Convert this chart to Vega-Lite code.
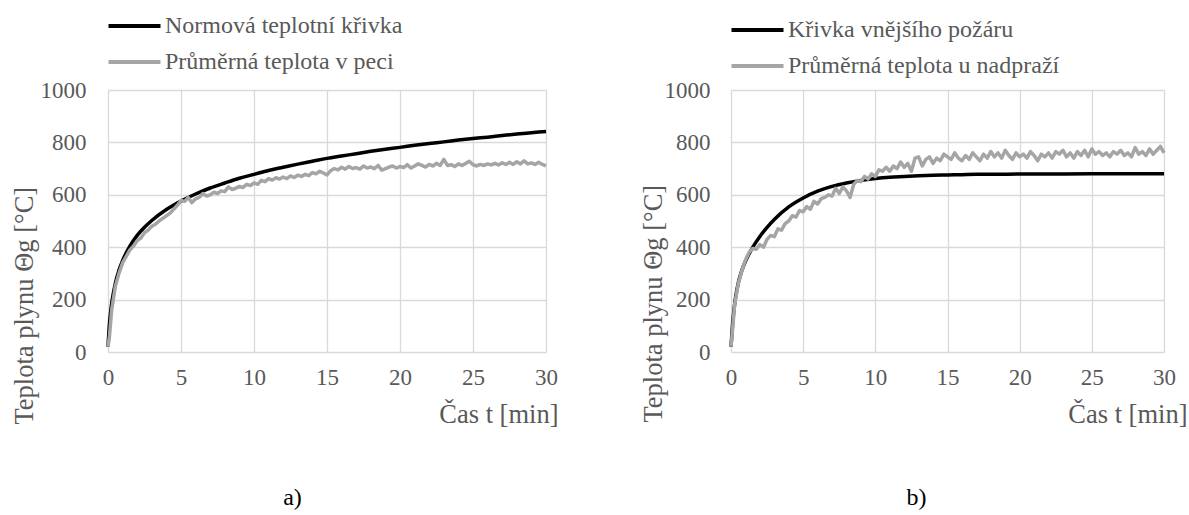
{
  "$schema": "https://vega.github.io/schema/vega-lite/v6.json",
  "background": "white",
  "padding": {"left": 11, "top": 14, "right": 0, "bottom": 0},
  "resolve": {"scale": {"color": "independent"}, "legend": {"color": "independent"}},
  "config": {
    "font": "Times New Roman",
    "view": {"stroke": null},
    "axis": {
      "labelFont": "Times New Roman", "labelFontSize": 23, "labelColor": "#595959",
      "titleFont": "Times New Roman", "titleFontSize": 26.5, "titleColor": "#595959", "titleFontWeight": "normal",
      "gridColor": "#d9d9d9", "gridWidth": 1.3, "domain": false, "ticks": false, "labelFlush": false, "format": "d"
    },
    "legend": {
      "orient": "none", "title": null, "padding": 0,
      "symbolType": "M-1,0H7", "symbolSize": 169, "symbolStrokeWidth": 4, "symbolFillColor": "transparent",
      "labelOffset": 38, "rowPadding": 12, "labelFontSize": 24, "labelColor": "#595959",
      "labelFont": "Times New Roman", "labelLimit": 500
    },
    "title": {"font": "Times New Roman", "fontSize": 24, "fontWeight": "normal", "color": "#000000"},
    "concat": {"spacing": 82}
  },
  "datasets": {
    "isoA": [
      {"t":0,"T":20},{"t":0.1,"T":108},{"t":0.2,"T":163},{"t":0.3,"T":203},{"t":0.5,"T":261},{"t":0.75,"T":312},
      {"t":1,"T":349},{"t":1.5,"T":404},{"t":2,"T":445},{"t":2.5,"T":476},{"t":3,"T":502},{"t":4,"T":544},
      {"t":5,"T":576},{"t":6,"T":603},{"t":7,"T":626},{"t":8,"T":645},{"t":9,"T":663},{"t":10,"T":678},
      {"t":11,"T":693},{"t":12,"T":705},{"t":13,"T":717},{"t":14,"T":728},{"t":15,"T":739},{"t":16,"T":748},
      {"t":17,"T":757},{"t":18,"T":766},{"t":19,"T":774},{"t":20,"T":781},{"t":21,"T":789},{"t":22,"T":796},
      {"t":23,"T":802},{"t":24,"T":809},{"t":25,"T":815},{"t":26,"T":820},{"t":27,"T":826},{"t":28,"T":832},
      {"t":29,"T":837},{"t":30,"T":842}
    ],
    "measA": [
      {"t":0,"T":20},{"t":0.1,"T":60},{"t":0.25,"T":160},{"t":0.5,"T":250},{"t":0.75,"T":300},{"t":1,"T":340},
      {"t":1.25,"T":365},{"t":1.5,"T":390},{"t":1.75,"T":405},{"t":2,"T":425},{"t":2.25,"T":435},{"t":2.5,"T":455},
      {"t":2.75,"T":465},{"t":3,"T":480},{"t":3.25,"T":488},{"t":3.5,"T":500},{"t":3.75,"T":510},{"t":4,"T":520},
      {"t":4.25,"T":530},{"t":4.5,"T":545},{"t":4.75,"T":560},{"t":5,"T":578},{"t":5.25,"T":575},{"t":5.5,"T":590},
      {"t":5.75,"T":570},{"t":6,"T":585},{"t":6.25,"T":590},{"t":6.5,"T":605},{"t":6.75,"T":595},{"t":7,"T":600},
      {"t":7.25,"T":610},{"t":7.5,"T":605},{"t":7.75,"T":615},{"t":8,"T":612},{"t":8.25,"T":630},{"t":8.5,"T":620},
      {"t":8.75,"T":625},{"t":9,"T":632},{"t":9.25,"T":628},{"t":9.5,"T":640},{"t":9.75,"T":635},{"t":10,"T":645},
      {"t":10.25,"T":640},{"t":10.5,"T":655},{"t":10.75,"T":650},{"t":11,"T":662},{"t":11.25,"T":656},{"t":11.5,"T":665},
      {"t":11.75,"T":660},{"t":12,"T":668},{"t":12.25,"T":662},{"t":12.5,"T":672},{"t":12.75,"T":666},{"t":13,"T":675},
      {"t":13.25,"T":670},{"t":13.5,"T":678},{"t":13.75,"T":673},{"t":14,"T":685},{"t":14.25,"T":680},{"t":14.5,"T":690},
      {"t":14.75,"T":683},{"t":15,"T":676},{"t":15.25,"T":692},{"t":15.5,"T":700},{"t":15.75,"T":695},{"t":16,"T":705},
      {"t":16.25,"T":698},{"t":16.5,"T":708},{"t":16.75,"T":700},{"t":17,"T":704},{"t":17.25,"T":698},{"t":17.5,"T":710},
      {"t":17.75,"T":702},{"t":18,"T":706},{"t":18.25,"T":700},{"t":18.5,"T":712},{"t":18.75,"T":694},{"t":19,"T":700},
      {"t":19.25,"T":706},{"t":19.5,"T":710},{"t":19.75,"T":702},{"t":20,"T":708},{"t":20.25,"T":704},{"t":20.5,"T":715},
      {"t":20.75,"T":702},{"t":21,"T":710},{"t":21.25,"T":718},{"t":21.5,"T":712},{"t":21.75,"T":706},{"t":22,"T":716},
      {"t":22.25,"T":710},{"t":22.5,"T":720},{"t":22.75,"T":712},{"t":23,"T":735},{"t":23.25,"T":712},{"t":23.5,"T":715},
      {"t":23.75,"T":708},{"t":24,"T":718},{"t":24.25,"T":712},{"t":24.5,"T":720},{"t":24.75,"T":728},{"t":25,"T":715},
      {"t":25.25,"T":710},{"t":25.5,"T":716},{"t":25.75,"T":712},{"t":26,"T":718},{"t":26.25,"T":714},{"t":26.5,"T":720},
      {"t":26.75,"T":714},{"t":27,"T":722},{"t":27.25,"T":716},{"t":27.5,"T":724},{"t":27.75,"T":716},{"t":28,"T":726},
      {"t":28.25,"T":718},{"t":28.5,"T":730},{"t":28.75,"T":718},{"t":29,"T":722},{"t":29.25,"T":716},{"t":29.5,"T":724},
      {"t":29.75,"T":716},{"t":30,"T":710}
    ],
    "extB": [
      {"t":0,"T":20},{"t":0.1,"T":100},{"t":0.2,"T":158},{"t":0.3,"T":202},{"t":0.5,"T":263},{"t":0.75,"T":311},
      {"t":1,"T":346},{"t":1.5,"T":399},{"t":2,"T":441},{"t":2.5,"T":476},{"t":3,"T":506},{"t":4,"T":554},
      {"t":5,"T":588},{"t":6,"T":614},{"t":7,"T":632},{"t":8,"T":645},{"t":9,"T":655},{"t":10,"T":662},
      {"t":11,"T":667},{"t":12,"T":670},{"t":13,"T":673},{"t":14,"T":675},{"t":15,"T":676},{"t":16,"T":677},
      {"t":17,"T":678},{"t":18,"T":678},{"t":20,"T":679},{"t":22,"T":679},{"t":25,"T":680},{"t":30,"T":680}
    ],
    "measB": [
      {"t":0,"T":20},{"t":0.1,"T":80},{"t":0.25,"T":180},{"t":0.5,"T":260},{"t":0.75,"T":310},{"t":1,"T":350},
      {"t":1.25,"T":380},{"t":1.5,"T":395},{"t":1.75,"T":392},{"t":2,"T":410},{"t":2.25,"T":400},{"t":2.5,"T":430},
      {"t":2.75,"T":445},{"t":3,"T":440},{"t":3.25,"T":470},{"t":3.5,"T":465},{"t":3.75,"T":490},{"t":4,"T":500},
      {"t":4.25,"T":520},{"t":4.5,"T":515},{"t":4.75,"T":540},{"t":5,"T":535},{"t":5.25,"T":555},{"t":5.5,"T":545},
      {"t":5.75,"T":575},{"t":6,"T":565},{"t":6.25,"T":585},{"t":6.5,"T":590},{"t":6.75,"T":600},{"t":7,"T":595},
      {"t":7.25,"T":625},{"t":7.5,"T":605},{"t":7.75,"T":630},{"t":8,"T":615},{"t":8.25,"T":590},{"t":8.5,"T":640},
      {"t":8.75,"T":655},{"t":9,"T":650},{"t":9.25,"T":670},{"t":9.5,"T":660},{"t":9.75,"T":680},{"t":10,"T":670},
      {"t":10.25,"T":695},{"t":10.5,"T":690},{"t":10.75,"T":705},{"t":11,"T":690},{"t":11.25,"T":710},{"t":11.5,"T":700},
      {"t":11.75,"T":725},{"t":12,"T":705},{"t":12.25,"T":720},{"t":12.5,"T":690},{"t":12.75,"T":740},{"t":13,"T":745},
      {"t":13.25,"T":710},{"t":13.5,"T":735},{"t":13.75,"T":745},{"t":14,"T":720},{"t":14.25,"T":740},{"t":14.5,"T":730},
      {"t":14.75,"T":755},{"t":15,"T":745},{"t":15.25,"T":735},{"t":15.5,"T":760},{"t":15.75,"T":740},{"t":16,"T":730},
      {"t":16.25,"T":750},{"t":16.5,"T":735},{"t":16.75,"T":760},{"t":17,"T":745},{"t":17.25,"T":730},{"t":17.5,"T":755},
      {"t":17.75,"T":740},{"t":18,"T":765},{"t":18.25,"T":745},{"t":18.5,"T":760},{"t":18.75,"T":740},{"t":19,"T":770},
      {"t":19.25,"T":750},{"t":19.5,"T":735},{"t":19.75,"T":760},{"t":20,"T":745},{"t":20.25,"T":755},{"t":20.5,"T":740},
      {"t":20.75,"T":765},{"t":21,"T":750},{"t":21.25,"T":730},{"t":21.5,"T":755},{"t":21.75,"T":745},{"t":22,"T":760},
      {"t":22.25,"T":740},{"t":22.5,"T":765},{"t":22.75,"T":755},{"t":23,"T":770},{"t":23.25,"T":745},{"t":23.5,"T":760},
      {"t":23.75,"T":740},{"t":24,"T":765},{"t":24.25,"T":750},{"t":24.5,"T":770},{"t":24.75,"T":745},{"t":25,"T":775},
      {"t":25.25,"T":755},{"t":25.5,"T":765},{"t":25.75,"T":750},{"t":26,"T":760},{"t":26.25,"T":745},{"t":26.5,"T":765},
      {"t":26.75,"T":755},{"t":27,"T":770},{"t":27.25,"T":750},{"t":27.5,"T":760},{"t":27.75,"T":745},{"t":28,"T":780},
      {"t":28.25,"T":755},{"t":28.5,"T":765},{"t":28.75,"T":750},{"t":29,"T":775},{"t":29.25,"T":755},{"t":29.5,"T":770},
      {"t":29.75,"T":785},{"t":30,"T":760}
    ]
  },
  "hconcat": [
    {
      "width": 438, "height": 262,
      "title": {"text": "a)", "orient": "bottom", "anchor": "middle", "frame": "bounds", "offset": 58, "dx": 8},
      "encoding": {
        "x": {"field": "t", "type": "quantitative",
              "scale": {"domain": [0, 30], "nice": false},
              "axis": {"values": [0,5,10,15,20,25,30], "title": "Čas t [min]", "labelPadding": 14,
                       "titleAnchor": "end", "titleAlign": "right", "titleX": 450, "titleY": 70, "titleBaseline": "alphabetic"}},
        "y": {"field": "T", "type": "quantitative",
              "scale": {"domain": [0, 1000], "nice": false},
              "axis": {"values": [0,200,400,600,800,1000], "title": "Teplota plynu Θg [°C]", "labelPadding": 22,
                       "titleAnchor": "start", "titleAlign": "left", "titleX": -84, "titleY": 334, "titleBaseline": "middle"}},
        "color": {"type": "nominal",
                  "scale": {"domain": ["Normová teplotní křivka", "Průměrná teplota v peci"], "range": ["#000000", "#a5a5a5"]},
                  "legend": {"legendX": -5, "legendY": -76}}
      },
      "layer": [
        {"data": {"name": "isoA"}, "mark": {"type": "line", "strokeWidth": 3.5, "interpolate": "monotone"},
         "encoding": {"color": {"datum": "Normová teplotní křivka", "type": "nominal"}}},
        {"data": {"name": "measA"}, "mark": {"type": "line", "strokeWidth": 3.5, "strokeJoin": "round"},
         "encoding": {"color": {"datum": "Průměrná teplota v peci", "type": "nominal"}}}
      ]
    },
    {
      "width": 433, "height": 262,
      "title": {"text": "b)", "orient": "bottom", "anchor": "middle", "frame": "bounds", "offset": 58, "dx": 3},
      "encoding": {
        "x": {"field": "t", "type": "quantitative",
              "scale": {"domain": [0, 30], "nice": false},
              "axis": {"values": [0,5,10,15,20,25,30], "title": "Čas t [min]", "labelPadding": 14,
                       "titleAnchor": "end", "titleAlign": "right", "titleX": 456, "titleY": 70, "titleBaseline": "alphabetic"}},
        "y": {"field": "T", "type": "quantitative",
              "scale": {"domain": [0, 1000], "nice": false},
              "axis": {"values": [0,200,400,600,800,1000], "title": "Teplota plynu Θg [°C]", "labelPadding": 21,
                       "titleAnchor": "start", "titleAlign": "left", "titleX": -78, "titleY": 332, "titleBaseline": "middle"}},
        "color": {"type": "nominal",
                  "scale": {"domain": ["Křivka vnějšího požáru", "Průměrná teplota u nadpraží"], "range": ["#000000", "#a5a5a5"]},
                  "legend": {"legendX": -5, "legendY": -72}}
      },
      "layer": [
        {"data": {"name": "extB"}, "mark": {"type": "line", "strokeWidth": 3.5, "interpolate": "monotone"},
         "encoding": {"color": {"datum": "Křivka vnějšího požáru", "type": "nominal"}}},
        {"data": {"name": "measB"}, "mark": {"type": "line", "strokeWidth": 3.5, "strokeJoin": "round"},
         "encoding": {"color": {"datum": "Průměrná teplota u nadpraží", "type": "nominal"}}}
      ]
    }
  ]
}
